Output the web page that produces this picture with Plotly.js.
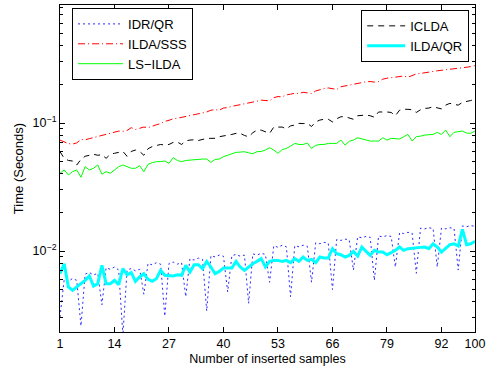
<!DOCTYPE html>
<html>
<head>
<meta charset="utf-8">
<script src="https://cdn.plot.ly/plotly-3.0.1.min.js"></script>
<style>html,body{margin:0;padding:0;background:#fff;}#chart{width:492px;height:372px;}</style>
</head>
<body>
<div id="chart"></div>
<script>
// x: number of inserted samples
const samples = Array.from({length: 100}, (_, i) => i + 1);

const idrqr = [
0.00305,0.0060,0.0058,0.0061,0.0059,
0.0026,0.0066,0.0068,0.0065,0.0067,
0.0038,0.0074,0.0072,0.0075,0.0071,
0.0022,0.0071,0.0073,0.0070,0.0072,
0.0046,0.0080,0.0078,0.0081,0.0079,
0.0031,0.0080,0.0082,0.0079,0.0081,
0.0044,0.0087,0.0085,0.0088,0.0086,
0.0034,0.0092,0.0090,0.0093,0.0091,
0.0048,0.0092,0.0094,0.0091,0.0093,
0.0039,0.0095,0.0093,0.0096,0.0094,
0.0057,0.0110,0.0107,0.0111,0.0108,
0.0044,0.0110,0.0108,0.0111,0.0109,
0.0057,0.0116,0.0114,0.0117,0.0115,
0.0050,0.0123,0.0121,0.0124,0.0122,
0.0071,0.0129,0.0127,0.0130,0.0128,
0.0059,0.0131,0.0129,0.0132,0.0130,
0.0075,0.0139,0.0137,0.0140,0.0138,
0.0067,0.0151,0.0149,0.0152,0.0150,
0.0075,0.0151,0.0149,0.0152,0.0150,
0.0071,0.0157,0.0155,0.0158,0.0156
];

const ildasss = [
0.0736,0.071,0.069,0.0685,0.070,0.0745,0.074,0.0755,0.077,0.0785,
0.080,0.082,0.083,0.0845,0.0865,0.086,0.0875,0.092,0.089,0.091,
0.093,0.092,0.095,0.097,0.099,0.103,0.105,0.108,0.109,0.111,
0.113,0.115,0.117,0.119,0.120,0.122,0.126,0.127,0.126,0.131,
0.132,0.135,0.137,0.139,0.140,0.143,0.146,0.148,0.151,0.150,
0.149,0.158,0.161,0.160,0.166,0.168,0.171,0.170,0.174,0.172,
0.170,0.178,0.183,0.186,0.188,0.185,0.183,0.192,0.195,0.199,
0.203,0.206,0.208,0.210,0.211,0.209,0.211,0.220,0.224,0.226,
0.228,0.231,0.233,0.228,0.235,0.242,0.244,0.248,0.250,0.253,
0.256,0.259,0.261,0.264,0.266,0.268,0.270,0.272,0.276,0.281
];

const iclda = [
0.0597,0.053,0.051,0.0505,0.047,0.052,0.055,0.056,0.057,0.056,
0.0565,0.053,0.057,0.058,0.059,0.060,0.055,0.060,0.0615,0.060,
0.056,0.063,0.0655,0.067,0.068,0.0673,0.068,0.0706,0.071,0.068,
0.0725,0.0736,0.074,0.073,0.0745,0.0759,0.0759,0.076,0.0782,0.079,
0.0805,0.0815,0.083,0.083,0.080,0.078,0.084,0.088,0.088,0.086,
0.083,0.093,0.0936,0.093,0.090,0.095,0.0965,0.0994,0.099,0.0994,
0.094,0.102,0.1055,0.107,0.107,0.102,0.108,0.112,0.112,0.110,
0.107,0.114,0.115,0.1155,0.114,0.111,0.122,0.1227,0.122,0.121,
0.114,0.126,0.128,0.128,0.127,0.121,0.127,0.130,0.131,0.134,
0.132,0.129,0.138,0.1425,0.140,0.138,0.145,0.147,0.150,0.154
];

const lsilda = [
0.0405,0.043,0.0393,0.0417,0.043,0.0377,0.0456,0.043,0.0443,0.047,
0.0398,0.0417,0.0405,0.043,0.0456,0.047,0.0456,0.0443,0.0443,0.0464,
0.0417,0.0476,0.049,0.0499,0.050,0.0505,0.0484,0.0536,0.051,0.0499,
0.051,0.0514,0.052,0.0523,0.0523,0.0523,0.0493,0.052,0.0523,0.0546,
0.056,0.058,0.059,0.0593,0.0597,0.0585,0.0576,0.0597,0.060,0.0615,
0.0642,0.0615,0.058,0.062,0.0633,0.066,0.0693,0.068,0.068,0.0697,
0.0633,0.067,0.068,0.068,0.0693,0.0693,0.0693,0.0736,0.0673,0.072,
0.0736,0.0767,0.075,0.0736,0.0723,0.0723,0.0723,0.0767,0.0736,0.0759,
0.0755,0.075,0.0782,0.0815,0.0723,0.0782,0.079,0.0806,0.081,0.0815,
0.0846,0.0815,0.0882,0.0782,0.0846,0.0856,0.0866,0.0835,0.083,0.0866
];

const ildaqr = [
0.00665,0.00796,0.00524,0.00493,0.00524,0.00556,0.0059,0.00638,0.00533,0.00556,
0.00773,0.00556,0.00556,0.0059,0.00546,0.00728,0.00653,0.00678,0.0058,0.00627,
0.00665,0.00601,0.0058,0.00608,0.00706,0.00646,0.00646,0.00638,0.00653,0.00646,
0.00773,0.00686,0.00782,0.00782,0.00728,0.0083,0.0075,0.00665,0.00693,0.00737,
0.00737,0.00737,0.0083,0.0075,0.00706,0.0075,0.00796,0.0083,0.00871,0.0075,
0.0083,0.00845,0.00845,0.0083,0.00845,0.00811,0.00871,0.0083,0.00898,0.00845,
0.00861,0.00811,0.00898,0.00882,0.00882,0.01043,0.00953,0.00936,0.00898,0.00925,
0.00994,0.00914,0.01075,0.00994,0.00925,0.01012,0.00982,0.00982,0.00936,0.0097,
0.01012,0.01075,0.01012,0.01043,0.01055,0.01068,0.01068,0.01075,0.01043,0.0114,
0.01075,0.00982,0.01055,0.0112,0.0114,0.01094,0.01476,0.0112,0.0114,0.0119
];

const xTicks = [1, 14, 27, 40, 53, 66, 79, 92, 100];
const yTicks = [0.01, 0.1];
const yTickText = ['10<sup>\u22122</sup>', '10<sup>\u22121</sup>'];
const yMinor = [0.003,0.004,0.005,0.006,0.007,0.008,0.009,
                0.02,0.03,0.04,0.05,0.06,0.07,0.08,0.09,
                0.2,0.3,0.4,0.5,0.6,0.7,0.8,0.9];

const traces = [
  {x: samples, y: idrqr, name: 'IDR/QR', mode: 'lines', legend: 'legend',
   line: {color: 'rgb(40,40,255)', width: 1, dash: '2px,3px'}},
  {x: samples, y: ildasss, name: 'ILDA/SSS', mode: 'lines', legend: 'legend',
   line: {color: 'rgb(255,0,0)', width: 1, dash: '7px,3px,1px,3px'}},
  {x: samples, y: iclda, name: 'ICLDA', mode: 'lines', legend: 'legend2',
   line: {color: 'rgb(0,0,0)', width: 1, dash: '6px,5px'}},
  {x: samples, y: lsilda, name: 'LS\u2212ILDA', mode: 'lines', legend: 'legend',
   line: {color: 'rgb(0,255,0)', width: 1}},
  {x: samples, y: ildaqr, name: 'ILDA/QR', mode: 'lines', legend: 'legend2',
   line: {color: 'rgb(0,255,255)', width: 3}}
];

const font = {family: 'Liberation Sans, Arial, Helvetica, sans-serif', color: '#000'};

const layout = {
  width: 492, height: 372,
  margin: {l: 60, r: 17, t: 5, b: 40},
  paper_bgcolor: '#fff', plot_bgcolor: '#fff',
  font: Object.assign({size: 12}, font),
  showlegend: true,
  xaxis: {
    type: 'linear', range: [1, 100], tickmode: 'array', tickvals: xTicks,
    ticks: 'inside', ticklen: 5, tickcolor: '#000', tickwidth: 1,
    showline: true, linecolor: '#000', linewidth: 1, mirror: 'ticks',
    showgrid: false, zeroline: false,
    tickfont: Object.assign({size: 12.5}, font),
    title: {text: 'Number of inserted samples', font: Object.assign({size: 12.5}, font), standoff: 4}
  },
  yaxis: {
    type: 'log', range: [Math.log10(0.00233), Math.log10(0.836)],
    tickmode: 'array', tickvals: yTicks, ticktext: yTickText,
    ticks: 'inside', ticklen: 5, tickcolor: '#000', tickwidth: 1,
    minor: {tickmode: 'array', tickvals: yMinor, ticks: 'inside', ticklen: 3, tickcolor: '#000', showgrid: false},
    showline: true, linecolor: '#000', linewidth: 1, mirror: 'ticks',
    showgrid: false, zeroline: false,
    tickfont: Object.assign({size: 12.5}, font),
    title: {text: 'Time (Seconds)', font: Object.assign({size: 13}, font), standoff: 6}
  },
  legend: {
    x: 0.029, y: 0.991, xanchor: 'left', yanchor: 'top',
    bgcolor: '#fff', bordercolor: '#000', borderwidth: 1,
    font: Object.assign({size: 13}, font), tracegroupgap: 0, itemwidth: 45
  },
  legend2: {
    x: 0.986, y: 0.985, xanchor: 'right', yanchor: 'top',
    bgcolor: '#fff', bordercolor: '#000', borderwidth: 1,
    font: Object.assign({size: 13}, font), tracegroupgap: 0, itemwidth: 38
  }
};

Plotly.newPlot('chart', traces, layout, {displayModeBar: false, staticPlot: true});
</script>
</body>
</html>
